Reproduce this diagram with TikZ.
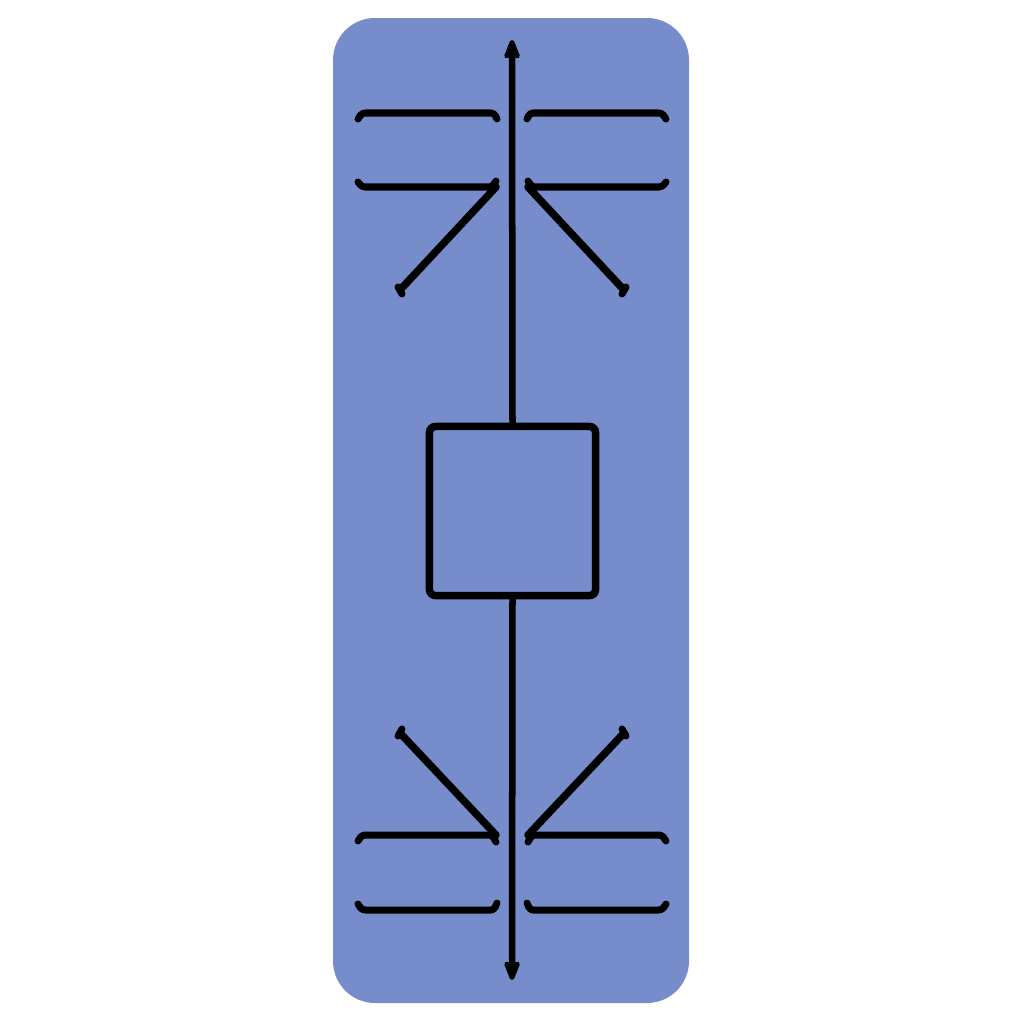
\documentclass[tikz,border=0pt]{standalone}
\usetikzlibrary{arrows.meta}
\definecolor{bgblue}{HTML}{778DCB}
\begin{document}
\begin{tikzpicture}[x=0.01cm,y=-0.01cm,
  stroke/.style={draw=black,line width=0.07cm,line cap=round,line join=round},
  hk/.style={stroke,rounded corners=0.03cm},
  tip/.style={-{Stealth[length=0.27cm,width=0.21cm,inset=0.08cm,round]}}]
\useasboundingbox (0,0) rectangle (1024,1024);
\fill[bgblue,rounded corners=0.42cm] (333,18) rectangle (689,1003);
\node[rectangle,draw=black,line width=0.075cm,rounded corners=0.06cm,
  minimum width=1.66cm,minimum height=1.69cm,inner sep=0pt] (sq) at (512.5,511) {};
\coordinate (top) at (512,40);
\coordinate (bot) at (512,980);
\draw[stroke,line width=0.065cm,tip] (sq.north) -- (top);
\draw[stroke,line width=0.065cm,tip] (sq.south) -- (bot);
% top left
\draw[hk] (358,119) -- (362,113) -- (494,113) -- (497,119);
\draw[hk] (358,182) -- (362,187) -- (492,187) -- (496,181);
\draw[stroke,line width=0.075cm] (496,187) -- (400,290);
\draw[stroke] (398,287) -- (402,294);
% top right
\draw[hk] (666,119) -- (662,113) -- (530,113) -- (527,119);
\draw[hk] (666,182) -- (662,187) -- (532,187) -- (528,181);
\draw[stroke,line width=0.075cm] (528,187) -- (624,290);
\draw[stroke] (626,287) -- (622,294);
% bottom left
\draw[stroke,line width=0.075cm] (400,733) -- (496,835);
\draw[stroke] (398,736) -- (402,729);
\draw[hk] (358,841) -- (362,835) -- (492,835) -- (496,842);
\draw[hk] (358,904) -- (362,910) -- (494,910) -- (497,903);
% bottom right
\draw[stroke,line width=0.075cm] (624,733) -- (528,835);
\draw[stroke] (626,736) -- (622,729);
\draw[hk] (666,841) -- (662,835) -- (532,835) -- (528,842);
\draw[hk] (666,904) -- (662,910) -- (530,910) -- (527,903);
\end{tikzpicture}
\end{document}
